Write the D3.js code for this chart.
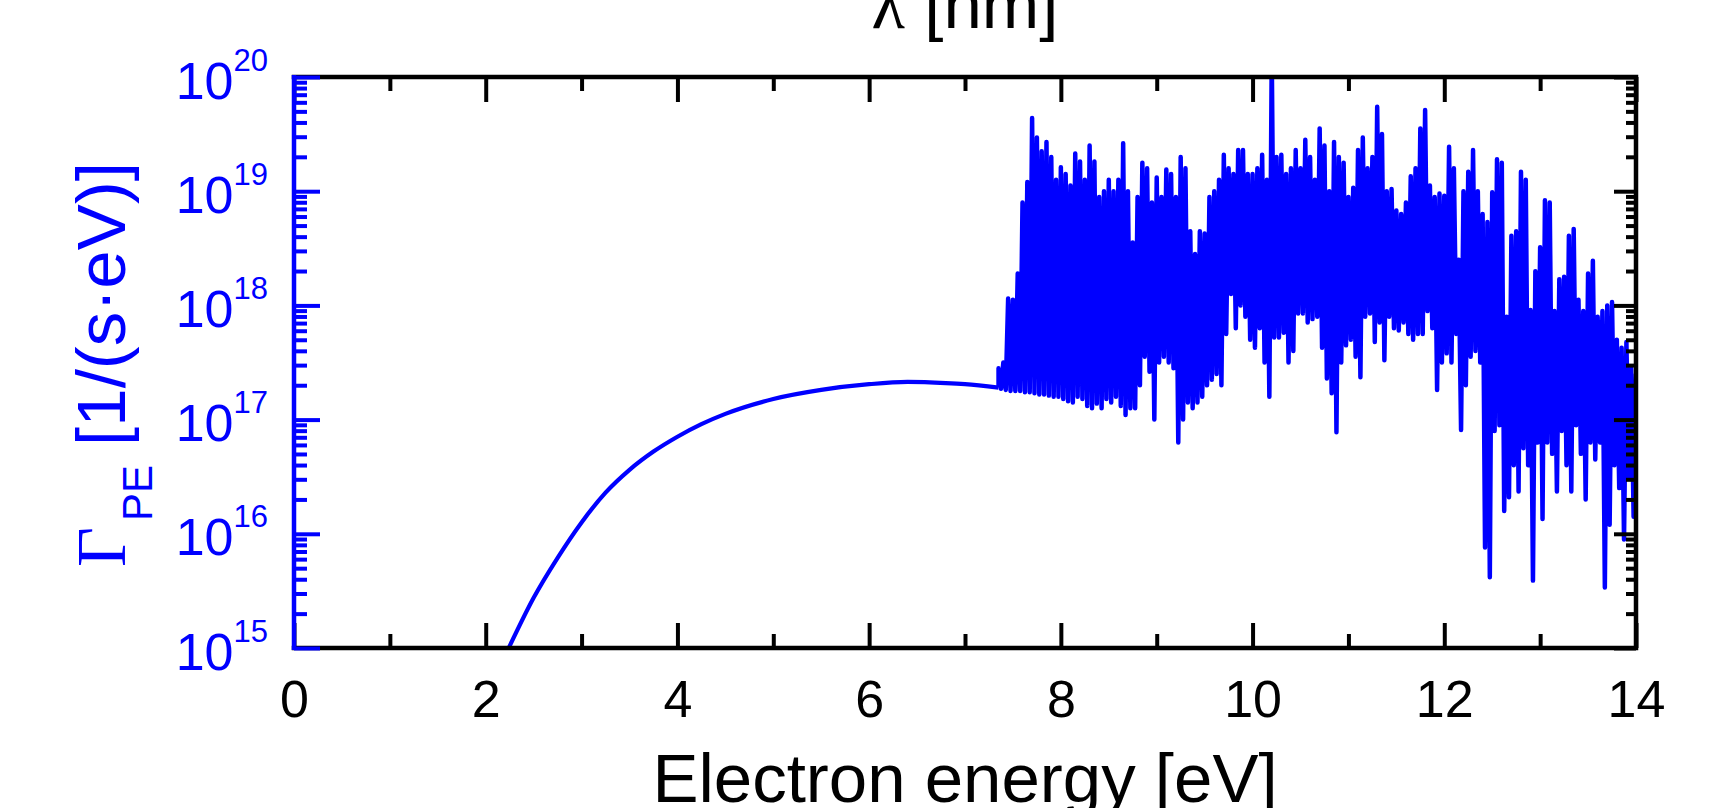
<!DOCTYPE html>
<html>
<head>
<meta charset="utf-8">
<title>Photoelectron production rate</title>
<style>
  body { margin: 0; background: #fff; }
  svg { display: block; }
  text { font-family: "Liberation Sans", Arial, sans-serif; }
</style>
</head>
<body>
<svg width="1722" height="808"></svg>
<script src="https://d3js.org/d3.v7.min.js"></script>
<script>

// smooth continuum part, rate given as log10 [1/(s eV)]
var curveEnergy = [2.24, 2.5, 2.75, 3.0, 3.25, 3.5, 3.75, 4.0, 4.25, 4.5, 5.0, 5.5, 6.0, 6.4, 6.8, 7.0, 7.35];
var curveExp    = [15.0, 15.44, 15.79, 16.1, 16.36, 16.56, 16.72, 16.85, 16.96, 17.05, 17.18, 17.26, 17.31, 17.33, 17.32, 17.31, 17.28];

// line region: read every 0.05 eV from 7.35 eV, upper excursion then lower excursion
var lineStart = 7.35, lineStep = 0.05;
var peakExp = [
  17.45, 17.5, 18.06, 18.05, 18.28, 18.9, 19.08, 19.64, 19.47, 19.35, 19.43, 19.3, 19.1, 19.21, 19.15, 19.05,
  19.33, 19.26, 19.1, 19.4, 19.26, 18.95, 19.0, 19.1, 19.0, 19.1, 19.42, 19.0, 18.55, 18.95, 19.25, 19.2,
  18.9, 19.12, 18.95, 19.19, 19.15, 18.95, 19.3, 19.2, 18.65, 18.45, 18.65, 18.63, 18.95, 19.0, 19.1, 19.32,
  19.2, 19.15, 19.36, 19.36, 19.15, 19.15, 19.2, 19.32, 19.1, 20.2, 19.3, 19.32, 19.15, 19.2, 19.36, 19.2,
  19.45, 19.3,
  19.1, 19.55, 19.4, 19.0, 19.43, 19.3, 19.25, 18.95, 19.03, 19.36, 19.47, 19.2, 19.3, 19.74, 19.5, 19.0,
  19.02, 18.83, 18.8, 18.9, 19.13, 19.2, 19.55, 19.71, 19.05, 18.95, 18.98, 18.96, 19.39, 19.2, 18.4, 19.0,
  19.17,
  19.36, 19.0, 18.8, 18.73, 18.99, 19.28, 19.25, 17.9, 18.61, 18.65, 19.17, 19.1, 17.96, 18.3, 18.51, 18.92,
  18.9, 17.95, 18.23, 18.25, 18.61, 18.67, 18.05, 17.95, 18.28, 18.39, 17.9, 17.95, 18.0, 18.03, 17.7, 17.63,
  17.68, 17.45, 17.4
];
var dipExp = [
  17.27, 17.26, 17.25, 17.25, 17.25, 17.24, 17.24, 17.23, 17.22, 17.22, 17.21, 17.2, 17.2, 17.18, 17.16, 17.15,
  17.2, 17.18, 17.12, 17.1, 17.14, 17.1, 17.18, 17.15, 17.2, 17.12, 17.04, 17.1, 17.1, 17.3, 17.55, 17.42,
  17.0, 17.5, 17.55, 17.5, 17.45, 16.8, 17.0, 17.15, 17.1, 17.15, 17.2, 17.3, 17.35, 17.4, 17.3, 17.75,
  18.1, 17.8, 18.0, 17.9, 17.7, 17.63, 17.8, 17.5, 17.2, 17.72, 17.72, 17.76, 17.5, 17.6, 17.93, 17.93,
  17.85, 17.88,
  17.9, 17.63, 17.36, 17.23, 16.89, 17.5, 17.65, 17.7, 17.55, 17.37, 17.9, 17.93, 17.68, 17.85, 17.52, 17.9,
  17.8, 17.78, 17.85, 17.75, 17.7, 17.75, 17.75, 17.95, 17.8, 17.26, 17.5, 17.58, 17.5, 17.75, 16.91, 17.3,
  17.55,
  17.6, 17.5, 15.88, 15.62, 16.9, 16.95, 16.2, 16.32, 16.6, 16.37, 16.75, 16.6, 15.59, 16.8, 16.13, 16.8,
  16.7, 16.37, 16.9, 16.6, 16.37, 16.95, 16.7, 16.3, 16.8, 16.65, 16.8, 15.53, 16.08, 16.6, 16.4, 15.95,
  16.5, 16.15, 16.4
];

var xTicks = [0, 2, 4, 6, 8, 10, 12, 14];
var xMinorTicks = [1, 3, 5, 7, 9, 11, 13];
var yTicks = [1e15, 1e16, 1e17, 1e18, 1e19, 1e20];

var blue = "#0000ff";

var svg = d3.select("svg");

var x = d3.scaleLinear().domain([0, 14]).range([294, 1636]);
var y = d3.scaleLog().domain([1e15, 1e20]).range([648, 77]);

var yMinorTicks = y.ticks().filter(function(d) {
  return yTicks.indexOf(d) < 0;
});

svg.append("clipPath")
    .attr("id", "plot-clip")
  .append("rect")
    .attr("x", 294)
    .attr("y", 77)
    .attr("width", 1636 - 294)
    .attr("height", 648 - 77);

var curveData = curveEnergy.map(function(e, i) {
  return [e, Math.pow(10, curveExp[i])];
});

var lineData = [curveData[curveData.length - 1]];
peakExp.forEach(function(p, i) {
  var e = lineStart + i * lineStep;
  lineData.push([e, Math.pow(10, p)]);
  lineData.push([e + lineStep / 2, Math.pow(10, dipExp[i])]);
});

var line = d3.line()
    .x(function(d) { return x(d[0]); })
    .y(function(d) { return y(d[1]); });

var plot = svg.append("g").attr("clip-path", "url(#plot-clip)");

plot.append("path")
    .datum(curveData)
    .attr("fill", "none")
    .attr("stroke", blue)
    .attr("stroke-width", 4.2)
    .attr("d", line.curve(d3.curveMonotoneX));

plot.append("path")
    .datum(lineData)
    .attr("fill", "none")
    .attr("stroke", blue)
    .attr("stroke-width", 4.5)
    .attr("stroke-linejoin", "round")
    .attr("d", line.curve(d3.curveLinear));

// frame
svg.append("path")
    .attr("d", "M294,77H1636V648H294")
    .attr("fill", "none")
    .attr("stroke", "#000")
    .attr("stroke-width", 4.5)
    .attr("stroke-linecap", "square");

function styleAxis(g, color) {
  g.select(".domain").remove();
  g.selectAll(".tick line").attr("stroke", color).attr("stroke-width", 4);
}

// bottom
svg.append("g")
    .attr("transform", "translate(0,648)")
    .call(d3.axisBottom(x).tickValues(xMinorTicks).tickSize(-14).tickFormat(""))
    .call(styleAxis, "#000");

var bottomAxis = svg.append("g")
    .attr("transform", "translate(0,648)")
    .call(d3.axisBottom(x).tickValues(xTicks).tickSize(-25).tickFormat(d3.format("d")))
    .call(styleAxis, "#000");

bottomAxis.selectAll("text")
    .attr("y", 69)
    .attr("dy", null)
    .attr("fill", "#000")
    .attr("font-size", 52)
    .attr("font-family", "'Liberation Sans', Arial, sans-serif");

// top
svg.append("g")
    .attr("transform", "translate(0,77)")
    .call(d3.axisTop(x).tickValues(xMinorTicks).tickSize(-14).tickFormat(""))
    .call(styleAxis, "#000");

svg.append("g")
    .attr("transform", "translate(0,77)")
    .call(d3.axisTop(x).tickValues(xTicks).tickSize(-25).tickFormat(""))
    .call(styleAxis, "#000");

// right
svg.append("g")
    .attr("transform", "translate(1636,0)")
    .call(d3.axisRight(y).tickValues(yMinorTicks).tickSize(-10).tickFormat(""))
    .call(styleAxis, "#000");

svg.append("g")
    .attr("transform", "translate(1636,0)")
    .call(d3.axisRight(y).tickValues(yTicks).tickSize(-22).tickFormat(""))
    .call(styleAxis, "#000");

// left (blue)
svg.append("line")
    .attr("x1", 294).attr("x2", 294)
    .attr("y1", 75).attr("y2", 650)
    .attr("stroke", blue)
    .attr("stroke-width", 4.5);

svg.append("g")
    .attr("transform", "translate(294,0)")
    .call(d3.axisLeft(y).tickValues(yMinorTicks).tickSize(-13).tickFormat(""))
    .call(styleAxis, blue);

var leftAxis = svg.append("g")
    .attr("transform", "translate(294,0)")
    .call(d3.axisLeft(y).tickValues(yTicks).tickSize(-26).tickFormat(""))
    .call(styleAxis, blue);

leftAxis.selectAll(".tick").each(function(d) {
  var t = d3.select(this).select("text")
      .attr("x", -26)
      .attr("y", 21)
      .attr("dy", null)
      .attr("fill", blue)
      .attr("text-anchor", "end")
      .attr("font-family", "'Liberation Sans', Arial, sans-serif");
  t.append("tspan").attr("font-size", 52).text("10");
  t.append("tspan")
      .attr("font-size", 31)
      .attr("dy", -28)
      .text(Math.round(Math.log10(d)));
});

// titles
svg.append("text")
    .attr("x", (294 + 1636) / 2)
    .attr("y", 802)
    .attr("text-anchor", "middle")
    .attr("font-size", 69)
    .attr("fill", "#000")
    .text("Electron energy [eV]");

var topTitle = svg.append("text")
    .attr("x", (294 + 1636) / 2)
    .attr("y", 28)
    .attr("text-anchor", "middle")
    .attr("font-size", 69)
    .attr("fill", "#000");
topTitle.append("tspan").attr("font-family", "'Liberation Serif', 'Times New Roman', serif").text("λ");
topTitle.append("tspan").text(" [nm]");

var yTitle = svg.append("text")
    .attr("transform", "translate(125,567) rotate(-90)")
    .attr("text-anchor", "start")
    .attr("font-size", 69)
    .attr("fill", blue);
yTitle.append("tspan").attr("font-family", "'Liberation Serif', 'Times New Roman', serif").text("Γ");
yTitle.append("tspan").attr("font-size", 42).attr("dy", 27).attr("dx", 6).text("PE");
yTitle.append("tspan").attr("dy", -27).text(" [1/(s·eV)]");

</script>
</body>
</html>
